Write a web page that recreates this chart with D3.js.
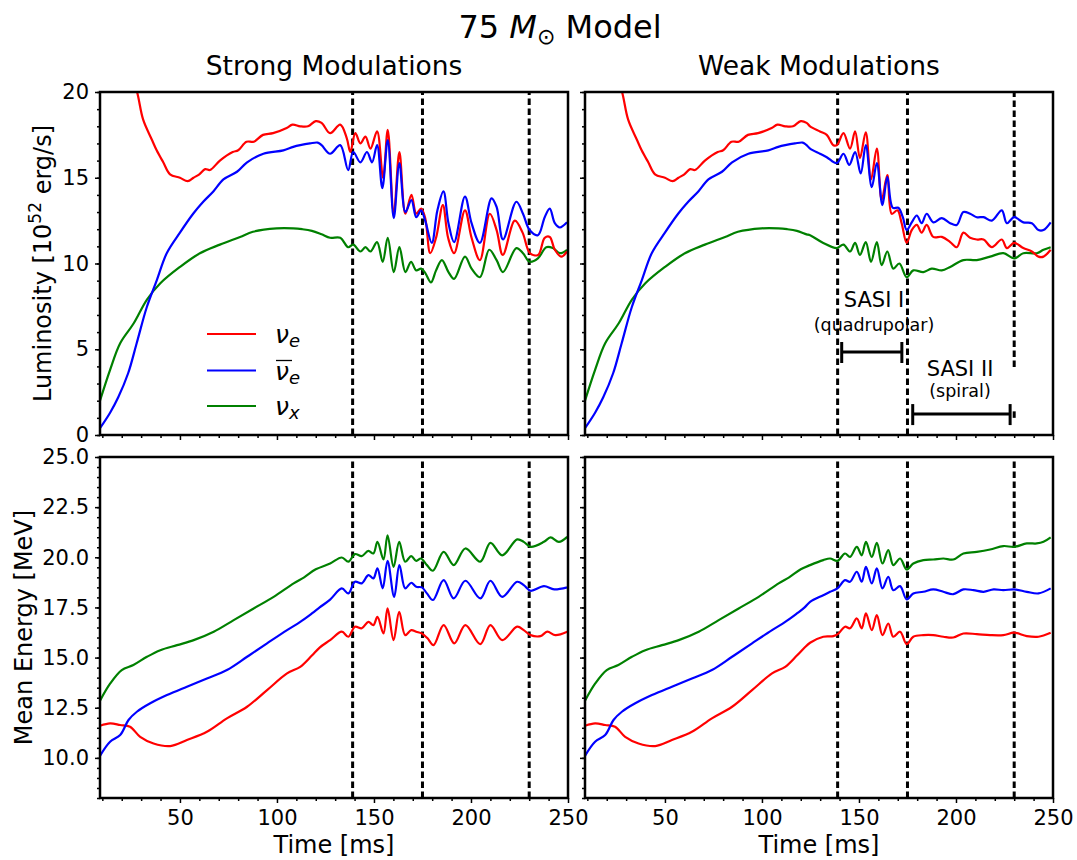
<!DOCTYPE html>
<html><head><meta charset="utf-8">
<script src="https://cdn.jsdelivr.net/npm/d3@7"></script>
<style>
body{margin:0;background:#fff;}
svg{display:block;}
text{font-family:"DejaVu Sans",sans-serif;fill:#000;}
</style>
</head><body><svg id="c" width="1077" height="860"></svg>
<script>
// ---------------- DATA ----------------
const timeTicks = [50, 100, 150, 200, 250];
const lumTicks = [0, 5, 10, 15, 20];
const enTicks = [10, 12.5, 15, 17.5, 20, 22.5, 25];
const markerTimes = [139, 175, 230];
const columnTitles = ["Strong Modulations", "Weak Modulations"];

// Luminosity, shared early phase [t ms, L 1e52 erg/s]
const lumNueEarly = [[8.8,27],[18,23.5],[24,21.3],[27.9,20],[31,18.4],[35.6,17.2],[38,16.6],[41.4,15.9],[44.9,15.2],[50,15.0],[54,14.8],[57,15.0],[60,15.2],[63,15.5],[65.5,15.45],[70.6,16.0],[77.2,16.5],[80,16.6],[84.3,17.1],[88,17.1],[92.8,17.5],[98,17.6],[105,17.9],[108,18.1],[112,18.0],[116,18.0],[120,18.3],[123,18.2]];
const lumNuebEarly = [[8.8,0.4],[14,1.3],[18.2,2.2],[23.3,3.6],[27.7,5.35],[32.9,7.45],[38,9.0],[43.2,10.6],[50,11.8],[56.8,12.9],[62,13.6],[67.2,14.2],[72.4,14.9],[79.4,15.35],[84.6,15.9],[93,16.4],[103.3,16.6],[108.4,16.8],[112,16.9],[117,17.0],[121,17.05],[123,16.9]];
const lumNuxEarly = [[8.8,2.0],[14,3.8],[19.2,5.35],[26.1,6.5],[33,7.9],[39.9,8.85],[50,9.8],[60.3,10.6],[70.6,11.1],[81,11.55],[87.6,11.85],[99.8,12.05],[108.4,12.05],[113,12.0],[118,11.9],[123,11.7]];

// Luminosity, strong modulations
const lumNueStrong = [[127.4,17.6],[132.6,18.1],[136,17.3],[137.8,16.5],[140.4,17.6],[143,17.0],[145.6,17.4],[148.2,16.7],[151.6,17.7],[154.7,15.0],[157.1,17.8],[160.2,12.9],[163.1,16.5],[166.2,12.9],[169.3,14.0],[171.8,12.9],[174.3,13.2],[176.4,12.65],[179,10.6],[182,11.5],[185.5,13.4],[188.2,11.5],[191.3,10.6],[196.9,13.1],[200.3,11.5],[204.6,10.2],[209.7,12.9],[213.2,11.95],[216.4,10.5],[222.6,12.5],[226.6,11.8],[230.4,10.6],[234.6,10.5],[238,11.5],[240.6,11.55],[243.2,10.8],[246.6,10.4],[249.5,10.7]];
const lumNuebStrong = [[127.4,16.4],[132.6,16.9],[136.7,15.45],[139.3,16.5],[143,15.9],[146.4,16.5],[149,15.9],[151.6,16.9],[154.3,14.4],[157.1,17.2],[160.2,12.65],[163.1,15.85],[166.2,13.0],[169.3,13.7],[171.8,12.7],[174.3,13.1],[176.4,12.5],[179.8,11.2],[182.7,13.1],[185.8,14.2],[188.4,12.35],[191.3,11.25],[196.9,13.9],[200.3,12.35],[204.6,11.2],[210.6,13.8],[213.2,13.3],[216.5,11.4],[223.4,13.6],[226.8,12.9],[230.2,11.95],[234.5,11.65],[238,12.7],[240.6,13.2],[243.2,12.35],[245.8,12.1],[249.5,12.4]];
const lumNuxStrong = [[127.4,11.5],[132.6,11.5],[136.7,10.95],[139.3,11.1],[143,10.7],[145.6,10.95],[148.2,10.7],[151.6,11.25],[154.5,10.1],[157.1,11.5],[160.2,9.5],[163.1,10.95],[166.2,9.5],[169.1,10.1],[171.8,9.6],[174.3,9.7],[176.4,9.45],[179.4,8.9],[182,9.6],[185,10.2],[188.4,9.5],[191.3,9.1],[196.9,10.4],[200.3,9.7],[204.6,9.2],[209.4,10.8],[213.2,10.2],[216.5,9.5],[223.4,10.9],[226.8,10.6],[230.2,10.1],[234.5,10.3],[238.8,10.95],[242.2,10.9],[245.8,10.6],[249.5,10.8]];

// Luminosity, weak modulations
const lumNueWeak = [[124.8,18.0],[129.9,17.7],[133.4,17.5],[136.8,16.9],[138.7,16.9],[142,17.6],[145.4,16.7],[148,17.7],[150.5,16.15],[153.5,17.65],[156.2,14.9],[159.2,16.7],[161.7,13.7],[164.6,15.15],[166.9,12.9],[169.8,13.1],[172,12.35],[174.6,11.2],[177.2,11.95],[179.8,12.25],[182.3,11.8],[184.9,12.25],[188.3,11.55],[192.7,11.55],[197,11.25],[200.4,10.95],[203.8,11.8],[207.3,11.5],[210.7,11.4],[214.2,11.4],[218.5,10.95],[223.6,11.4],[226.2,10.9],[230,11.2],[234.7,10.9],[239.1,10.7],[242.5,10.4],[245.1,10.4],[248.8,10.8]];
const lumNuebWeak = [[124.8,16.7],[129.9,16.4],[133.4,16.2],[138.5,15.85],[142,16.4],[145,15.75],[148,16.5],[150.9,15.25],[153.5,16.9],[156.6,14.45],[159.2,15.85],[162.1,13.4],[164.6,15.05],[167.4,13.25],[170.3,13.25],[172.6,12.7],[174.6,11.95],[177.2,12.4],[179.8,12.8],[182.3,12.35],[184.9,12.9],[188.3,12.4],[192.7,12.65],[197,12.35],[200.4,12.25],[203.8,13.0],[207.3,12.9],[210.7,12.7],[214.2,12.7],[218.5,12.5],[223.6,13.1],[226.2,12.35],[230,12.7],[234.7,12.4],[239.1,12.35],[242.5,11.95],[245.1,11.95],[248.8,12.4]];
const lumNuxWeak = [[124.8,11.65],[131.6,11.2],[138.5,10.9],[142,11.1],[145.4,10.7],[148,11.2],[150.5,10.5],[153.5,11.25],[156.2,10.1],[159.2,11.25],[161.7,9.9],[164.6,10.7],[167.7,9.7],[170.8,10.0],[174.6,9.2],[178,9.6],[183.2,9.5],[187.5,9.7],[192.7,9.6],[197,9.8],[203.8,10.2],[210.7,10.2],[217.6,10.4],[224.4,10.6],[230,10.3],[234.7,10.6],[241.6,10.6],[245.1,10.8],[248.8,10.95]];

// Mean energy, shared early phase [t ms, E MeV]
const enNueEarly = [[8.8,11.6],[14,11.72],[19.2,11.64],[24.3,11.55],[29.5,11.05],[36.4,10.72],[45,10.59],[53.6,10.89],[63.9,11.3],[74.2,11.97],[84.6,12.55],[94.9,13.38],[105.2,14.21],[112,14.54],[118,15.1],[122,15.5]];
const enNuebEarly = [[8.8,10.1],[14,10.8],[19.2,11.14],[23.5,11.89],[27.8,12.3],[34.7,12.72],[43.3,13.13],[53.6,13.55],[63.9,13.96],[74.2,14.38],[84.6,15.04],[94.9,15.71],[105.2,16.37],[112,16.78],[118,17.2],[122,17.5]];
const enNuxEarly = [[8.8,12.85],[14,13.7],[20,14.38],[26,14.63],[33,15.04],[39.9,15.37],[48.5,15.62],[57.1,15.87],[67.4,16.29],[77.7,16.87],[88,17.45],[98.3,18.03],[108.6,18.7],[114,19.0],[120,19.4]];

// Mean energy, strong modulations
const enNueStrong = [[127.4,15.87],[133.4,16.29],[136.8,16.04],[140.2,16.54],[143.7,16.46],[147.1,16.78],[149.7,16.62],[151.8,17.03],[154.9,16.2],[157,17.45],[160.1,15.87],[163,17.28],[166.1,16.12],[169.2,16.37],[171.8,16.29],[174.7,16.2],[177.6,15.96],[180.7,15.62],[185.9,16.62],[191.4,15.71],[197.1,16.62],[204.8,15.67],[210,16.62],[216.1,15.87],[223.8,16.54],[227.2,16.37],[230.7,16.12],[235.8,16.07],[239.3,16.29],[243.5,16.12],[249.6,16.29]];
const enNuebStrong = [[127.4,17.89],[133.4,18.45],[136.8,18.2],[140.2,18.78],[143.7,18.7],[147.1,19.11],[149.7,18.95],[151.8,19.45],[154.5,18.45],[157,19.82],[160.4,18.03],[163.1,19.61],[166.1,18.45],[169.2,18.73],[171.8,18.53],[174.7,18.5],[177.3,18.2],[180.4,17.87],[185.9,18.86],[191.1,17.95],[197.1,18.83],[204.8,17.95],[210,18.83],[216.1,18.03],[223.8,18.78],[227.2,18.61],[230.7,18.33],[237.6,18.56],[242.9,18.4],[249.6,18.5]];
const enNuxStrong = [[127.4,19.69],[133.4,19.99],[136.8,19.78],[140.2,20.16],[143.7,20.06],[147.1,20.32],[149.7,20.19],[151.8,20.77],[154.9,19.89],[157,21.1],[160.1,19.52],[163,20.77],[166.1,19.78],[169.2,20.06],[171.8,19.82],[174.2,19.94],[177.3,19.61],[180.4,19.33],[185.9,20.27],[191.1,19.61],[197.1,20.44],[204.8,19.78],[210,20.72],[216.1,20.1],[223.8,20.89],[227.2,20.77],[230.7,20.52],[237.6,20.77],[241,20.99],[245.3,20.77],[249.6,21.02]];

// Mean energy, weak modulations
const enNueWeak = [[124.8,15.74],[131.6,16.04],[136.8,16.07],[139.4,16.2],[142.8,16.54],[145.4,16.46],[148.9,16.95],[151.4,16.46],[153.6,17.2],[156.6,16.37],[159.2,17.12],[162.1,16.12],[165.1,16.7],[167.7,16.04],[171.2,16.29],[174.6,15.67],[178,16.04],[183.2,16.12],[188.3,16.12],[193.5,16.04],[198.6,16.0],[203.8,16.2],[210.7,16.17],[217.6,16.12],[224.4,16.12],[230,16.24],[236.5,16.07],[242.5,16.04],[248.8,16.24]];
const enNuebWeak = [[124.8,17.78],[131.6,18.11],[135.1,18.28],[138.9,18.45],[142.8,18.86],[145.4,18.78],[148.9,19.28],[151.4,18.78],[153.6,19.52],[156.6,18.7],[159.2,19.45],[162.1,18.45],[165.1,19.03],[167.7,18.36],[171.2,18.56],[174.6,17.9],[178,18.2],[183.2,18.28],[188.3,18.4],[193.5,18.28],[198.6,18.16],[203.8,18.4],[209,18.36],[214.2,18.28],[219.4,18.4],[224.4,18.36],[230,18.4],[236.5,18.28],[242.5,18.2],[248.8,18.45]];
const enNuxWeak = [[124.8,19.61],[131.6,19.86],[135.1,19.94],[138.9,19.82],[142.8,20.19],[145.4,20.02],[148.9,20.52],[151.4,20.1],[153.6,20.77],[156.6,20.02],[159.2,20.72],[162.1,19.69],[165.1,20.36],[167.7,19.61],[171.2,19.94],[174.6,19.39],[178,19.69],[183.2,19.86],[188.3,19.89],[193.5,19.94],[198.6,19.89],[203.8,20.19],[210.7,20.27],[217.6,20.39],[224.4,20.56],[230,20.52],[236.5,20.69],[241.6,20.69],[245.1,20.77],[248.8,20.99]];

// SASI phase annotations (weak panel): [start ms, end ms]
const sasiPhases = [
  {name: "SASI I", sub: "(quadrupolar)", t0: 141.1, t1: 172.1},
  {name: "SASI II", sub: "(spiral)", t0: 177.7, t1: 227.9}
];

// ---------------- DRAW ----------------
const colors = ["#ff0000", "#0000ff", "#008000"];
const svg = d3.select("#c");
const colRange = [[100, 568], [585, 1053]];
const rowRange = [[435, 92], [798, 457]];
const tDomain = [8.8, 250];

const panels = [
  {row: 0, col: 0, dom: [0, 20], ticks: lumTicks, minor: d3.range(0, 20.01, 1), fmt: d3.format("d"),
   series: [lumNueEarly.concat(lumNueStrong), lumNuebEarly.concat(lumNuebStrong), lumNuxEarly.concat(lumNuxStrong)]},
  {row: 0, col: 1, dom: [0, 20], ticks: lumTicks, minor: d3.range(0, 20.01, 1), fmt: d3.format("d"),
   series: [lumNueEarly.concat(lumNueWeak), lumNuebEarly.concat(lumNuebWeak), lumNuxEarly.concat(lumNuxWeak)]},
  {row: 1, col: 0, dom: [8, 25], ticks: enTicks, minor: d3.range(8, 25.01, 0.5), fmt: d3.format(".1f"),
   series: [enNueEarly.concat(enNueStrong), enNuebEarly.concat(enNuebStrong), enNuxEarly.concat(enNuxStrong)]},
  {row: 1, col: 1, dom: [8, 25], ticks: enTicks, minor: d3.range(8, 25.01, 0.5), fmt: d3.format(".1f"),
   series: [enNueEarly.concat(enNueWeak), enNuebEarly.concat(enNuebWeak), enNuxEarly.concat(enNuxWeak)]}
];

const defs = svg.append("defs");
const tMinor = d3.range(10, 250.01, 10).filter(v => v % 50 !== 0);

panels.forEach((p, i) => {
  const x = d3.scaleLinear().domain(tDomain).range(colRange[p.col]);
  const y = d3.scaleLinear().domain(p.dom).range(rowRange[p.row]);
  p.x = x; p.y = y;
  const [x0, x1] = colRange[p.col];
  const [yb, yt] = rowRange[p.row];
  defs.append("clipPath").attr("id", "clip" + i).append("rect")
    .attr("x", x0).attr("y", yt).attr("width", x1 - x0).attr("height", yb - yt);
  const g = svg.append("g");
  const plot = g.append("g").attr("clip-path", `url(#clip${i})`);

  // marker lines
  markerTimes.forEach(t => {
    let segs = [[p.dom[0], p.dom[1]]];
    if (p.row === 0 && p.col === 1 && t === 230) segs = [[3.96, p.dom[1]], [1.0, 1.45]];
    segs.forEach(s => {
      plot.append("line").attr("x1", x(t)).attr("x2", x(t))
        .attr("y1", y(s[0])).attr("y2", y(s[1]))
        .attr("stroke", "#000").attr("stroke-width", 3).attr("stroke-dasharray", "6.5,3.5");
    });
  });

  const line = d3.line().x(d => x(d[0])).y(d => y(d[1])).curve(d3.curveCatmullRom.alpha(0.5));
  [2, 0, 1].forEach(k => {
    plot.append("path").datum(p.series[k]).attr("d", line)
      .attr("fill", "none").attr("stroke", colors[k]).attr("stroke-width", 2.2).attr("stroke-linejoin", "round");
  });

  // axes
  const xa = g.append("g").attr("transform", `translate(0,${yb})`)
    .call(d3.axisBottom(x).tickValues(timeTicks).tickSize(5).tickSizeOuter(0).tickPadding(7)
      .tickFormat(p.row === 1 ? d3.format("d") : () => ""));
  const xm = g.append("g").attr("transform", `translate(0,${yb})`)
    .call(d3.axisBottom(x).tickValues(tMinor).tickSize(3).tickSizeOuter(0).tickFormat(() => ""));
  const ya = g.append("g").attr("transform", `translate(${x0},0)`)
    .call(d3.axisLeft(y).tickValues(p.ticks).tickSize(5).tickSizeOuter(0).tickPadding(6)
      .tickFormat(p.col === 0 ? p.fmt : () => ""));
  const ym = g.append("g").attr("transform", `translate(${x0},0)`)
    .call(d3.axisLeft(y).tickValues(p.minor).tickSize(3).tickSizeOuter(0).tickFormat(() => ""));
  [xa, xm, ya, ym].forEach(a => {
    a.select(".domain").remove();
    a.selectAll("line").attr("stroke", "#000").attr("stroke-width", 1.5);
    a.selectAll("text").attr("font-family", "'DejaVu Sans', sans-serif").attr("font-size", 21).attr("fill", "#000");
  });

  g.append("rect").attr("x", x0).attr("y", yt).attr("width", x1 - x0).attr("height", yb - yt)
    .attr("fill", "none").attr("stroke", "#000").attr("stroke-width", 2.5);

  if (p.row === 1) {
    g.append("text").attr("x", (x0 + x1) / 2).attr("y", 853).attr("text-anchor", "middle")
      .attr("font-size", 24).text("Time [ms]");
  }
});

// titles
const title = svg.append("text").attr("x", 560).attr("y", 38).attr("text-anchor", "middle").attr("font-size", 32);
title.append("tspan").text("75 ");
title.append("tspan").attr("font-style", "italic").text("M");
title.append("tspan").attr("font-size", 22).attr("dy", 6).text("⊙");
title.append("tspan").attr("dy", -6).text(" Model");
columnTitles.forEach((s, c) => {
  svg.append("text").attr("x", (colRange[c][0] + colRange[c][1]) / 2).attr("y", 75)
    .attr("text-anchor", "middle").attr("font-size", 26.5).text(s);
});

// y labels
const yl1 = svg.append("text").attr("transform", "translate(51,263.5) rotate(-90)")
  .attr("text-anchor", "middle").attr("font-size", 24);
yl1.append("tspan").text("Luminosity [10");
yl1.append("tspan").attr("font-size", 17).attr("dy", -10).text("52");
yl1.append("tspan").attr("dy", 10).text(" erg/s]");
svg.append("text").attr("transform", "translate(32,627.5) rotate(-90)")
  .attr("text-anchor", "middle").attr("font-size", 24).text("Mean Energy [MeV]");

// legend (top-left panel)
const lg = svg.append("g");
const legY = [334, 370.5, 406];
const legSub = ["e", "e", "x"];
legY.forEach((yy, k) => {
  lg.append("line").attr("x1", 207).attr("x2", 256).attr("y1", yy).attr("y2", yy)
    .attr("stroke", colors[k]).attr("stroke-width", 2.2);
  const t = lg.append("text").attr("x", 275).attr("y", yy + 9).attr("font-size", 25).attr("font-style", "italic");
  t.append("tspan").text("ν");
  t.append("tspan").attr("font-size", 18).attr("dy", 4).text(legSub[k]);
  if (k === 1) {
    lg.append("line").attr("x1", 276).attr("x2", 292).attr("y1", yy - 10).attr("y2", yy - 10)
      .attr("stroke", "#000").attr("stroke-width", 1.3);
  }
});

// SASI annotations on weak luminosity panel
const pw = panels[1];
const annY = [{bar: 4.84, name: 7.45, sub: 6.05}, {bar: 1.22, name: 3.46, sub: 2.2}];
sasiPhases.forEach((s, k) => {
  const a = annY[k];
  const xa = pw.x(s.t0), xb = pw.x(s.t1), yy = pw.y(a.bar);
  const g = svg.append("g");
  g.append("line").attr("x1", xa).attr("x2", xb).attr("y1", yy).attr("y2", yy).attr("stroke", "#000").attr("stroke-width", 3);
  [xa, xb].forEach(xx => g.append("line").attr("x1", xx).attr("x2", xx).attr("y1", yy - 10).attr("y2", yy + 11)
    .attr("stroke", "#000").attr("stroke-width", 3));
  const cx = k === 0 ? 874 : 960;
  g.append("text").attr("x", cx).attr("y", pw.y(a.name)).attr("text-anchor", "middle")
    .attr("font-family", "'Liberation Sans', Arial, sans-serif").attr("font-size", 21).text(s.name);
  g.append("text").attr("x", cx).attr("y", pw.y(a.sub)).attr("text-anchor", "middle")
    .attr("font-family", "'Liberation Sans', Arial, sans-serif").attr("font-size", 17.5).text(s.sub);
});
</script>
</body></html>
